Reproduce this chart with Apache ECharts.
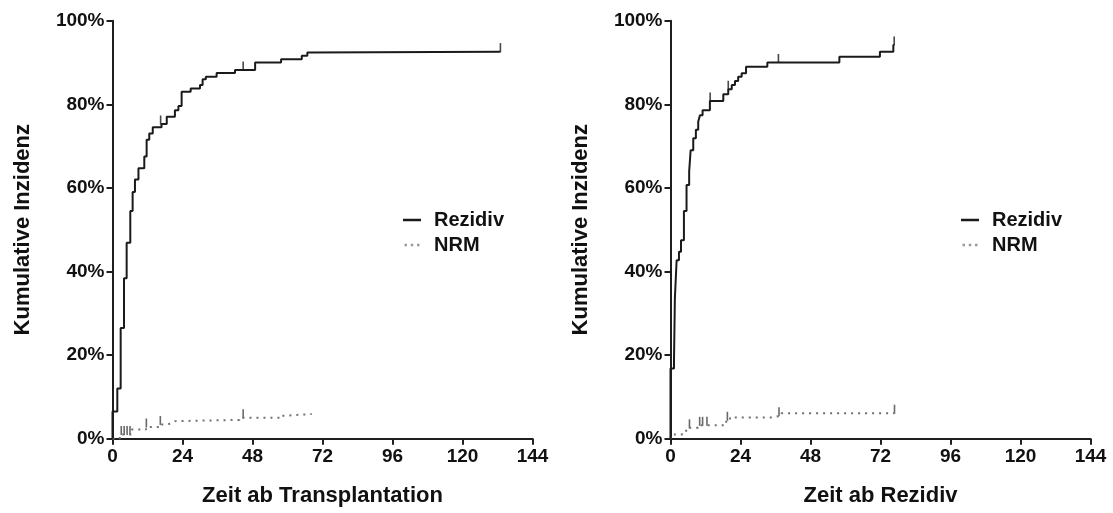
<!DOCTYPE html>
<html>
<head>
<meta charset="utf-8">
<script src="https://cdn.jsdelivr.net/npm/echarts@6/dist/echarts.min.js"></script>
<style>
  html, body { margin: 0; padding: 0; background: #fff; }
  #chart { width: 1113px; height: 513px; }
</style>
</head>
<body>
<div id="chart"></div>
<script>
// x-Achse in Monaten, Werte in Prozent
var xTicks = [0, 24, 48, 72, 96, 120, 144];

// links: Zeit ab Transplantation  [Monat, kumulative Inzidenz %]
var txRezidiv = [[0,0],[0,6.5],[1.65,12],[2.8,26.5],[3.95,38.4],[4.85,46.9],[6.1,54.5],[6.9,59],[7.7,62],
    [8.9,64.7],[10.9,67.5],[11.7,71.5],[12.6,73],[13.8,74.5],[16.8,75.3],[18.6,77],[21.4,78.6],[22.6,79.6],
    [23.7,83],[26.8,83.8],[30,84.6],[30.9,86],[32,86.6],[35.7,87.5],[42,88.2],[48.9,90],[57.8,90.8],
    [64.9,91.6],[66.8,92.4],[68,92.6],[133,92.6]];
var txNrm = [[0,0],[2.5,1.0],[6.5,2.2],[11.5,2.8],[16.3,3.4],[19,3.8],[20.3,4.2],[21.5,4.5],[43.5,5.0],
    [57.6,5.5],[59,5.9],[68.3,5.9]];
var txRezidivCensor = [[16.5,75.3],[44.8,88.2],[133,92.6]];
var txNrmCensor = [[3,1.0],[4,1.0],[5,1.0],[6,1.0],[11.6,2.8],[16.4,3.4],[44.8,5.0]];

// rechts: Zeit ab Rezidiv
var rzRezidiv = [[0,0],[0,16.8],[1.2,18.8],[1.5,33.6],[2.1,42.7],[2.9,44.7],[3.6,47.5],[4.6,54.5],[5.5,60.7],
    [6.4,63.9],[6.9,69],[7.8,71.9],[8.7,73.9],[9.5,75.8],[10.1,77.4],[11,78.6],[13.5,80.8],[18.1,82.4],
    [19.8,83.6],[21,84.6],[22.1,85.6],[23.2,86.6],[24.4,87.4],[25.9,89],[33.2,90],[57.9,91.4],[71.8,92.6],
    [76.4,94.2],[76.7,94.2]];
var rzNrm = [[0,0],[0.2,1.0],[3.7,1.3],[4.9,1.9],[6.3,2.6],[9.5,3.2],[19.1,4.4],[20.4,5.1],[35,5.5],
    [38,6.1],[76.8,6.1]];
var rzRezidivCensor = [[13.6,80.8],[19.8,83.6],[37,90],[76.7,94.2]];
var rzNrmCensor = [[6.5,2.6],[10,3.2],[11,3.2],[12.5,3.2],[19.5,4.4],[37.2,5.5],[76.8,6.1]];

var fontFam = 'Liberation Sans, Arial, sans-serif';
var axisColor = '#1e1e1e';
var lineColor = '#1a1a1a';
var dotColor = '#707070';

function xAxis(idx, name) {
    return {
        type: 'value', gridIndex: idx, min: 0, max: 144, interval: 24,
        name: name, nameLocation: 'middle', nameGap: 46,
        nameTextStyle: { fontFamily: fontFam, fontWeight: 'bold', fontSize: 22, color: '#111' },
        axisLine: { lineStyle: { color: axisColor, width: 2 } },
        axisTick: { length: 6, lineStyle: { color: axisColor, width: 2 } },
        axisLabel: { fontFamily: fontFam, fontWeight: 'bold', fontSize: 19, color: '#111', margin: 9 },
        splitLine: { show: false }
    };
}
function yAxis(idx) {
    return {
        type: 'value', gridIndex: idx, min: 0, max: 100, interval: 20,
        name: 'Kumulative Inzidenz', nameLocation: 'middle', nameGap: 79, nameRotate: 90,
        nameTextStyle: { fontFamily: fontFam, fontWeight: 'bold', fontSize: 22, color: '#111' },
        axisLine: { show: true, lineStyle: { color: axisColor, width: 2 } },
        axisTick: { show: true, length: 6, lineStyle: { color: axisColor, width: 2 } },
        axisLabel: { fontFamily: fontFam, fontWeight: 'bold', fontSize: 19, color: '#111', margin: 8,
            formatter: '{value}%' },
        splitLine: { show: false }
    };
}
function stepLine(name, data, idx, dotted) {
    var c = dotted ? dotColor : lineColor;
    return {
        name: name, type: 'line', step: 'end', xAxisIndex: idx, yAxisIndex: idx,
        data: data, symbol: 'none', silent: true, color: c,
        lineStyle: dotted ? { color: c, width: 2, type: [2, 5] } : { color: c, width: 2 }
    };
}
function censor(data, idx, color) {
    return {
        name: 'censor', type: 'scatter', xAxisIndex: idx, yAxisIndex: idx, data: data,
        symbol: 'rect', symbolSize: [1.6, 9], symbolOffset: [0, -4], silent: true,
        itemStyle: { color: color }
    };
}
function legend(left) {
    return {
        data: [
            { name: 'Rezidiv', icon: 'rect', itemStyle: { color: lineColor } },
            { name: 'NRM', icon: 'path://M0,0h3v3h-3z M7.5,0h3v3h-3z M15,0h3v3h-3z', itemStyle: { color: '#999' } }
        ],
        orient: 'vertical', left: left, top: 205, itemGap: 5,
        itemWidth: 18, itemHeight: 2.5, selectedMode: false,
        textStyle: { fontFamily: fontFam, fontWeight: 'bold', fontSize: 20, color: '#111', padding: [0, 0, 0, 8] }
    };
}

var chart = echarts.init(document.getElementById('chart'));
chart.setOption({
    animation: false,
    backgroundColor: '#fff',
    grid: [
        { left: 112.5, top: 20.7, width: 420, height: 418 },
        { left: 670.5, top: 20.7, width: 420, height: 418 }
    ],
    xAxis: [xAxis(0, 'Zeit ab Transplantation'), xAxis(1, 'Zeit ab Rezidiv')],
    yAxis: [yAxis(0), yAxis(1)],
    legend: [legend(398), legend(956)],
    series: [
        stepLine('NRM', txNrm, 0, true),
        stepLine('Rezidiv', txRezidiv, 0, false),
        censor(txNrmCensor, 0, '#444'),
        censor(txRezidivCensor, 0, lineColor),
        stepLine('NRM', rzNrm, 1, true),
        stepLine('Rezidiv', rzRezidiv, 1, false),
        censor(rzNrmCensor, 1, '#444'),
        censor(rzRezidivCensor, 1, lineColor)
    ]
});
</script>
</body>
</html>
